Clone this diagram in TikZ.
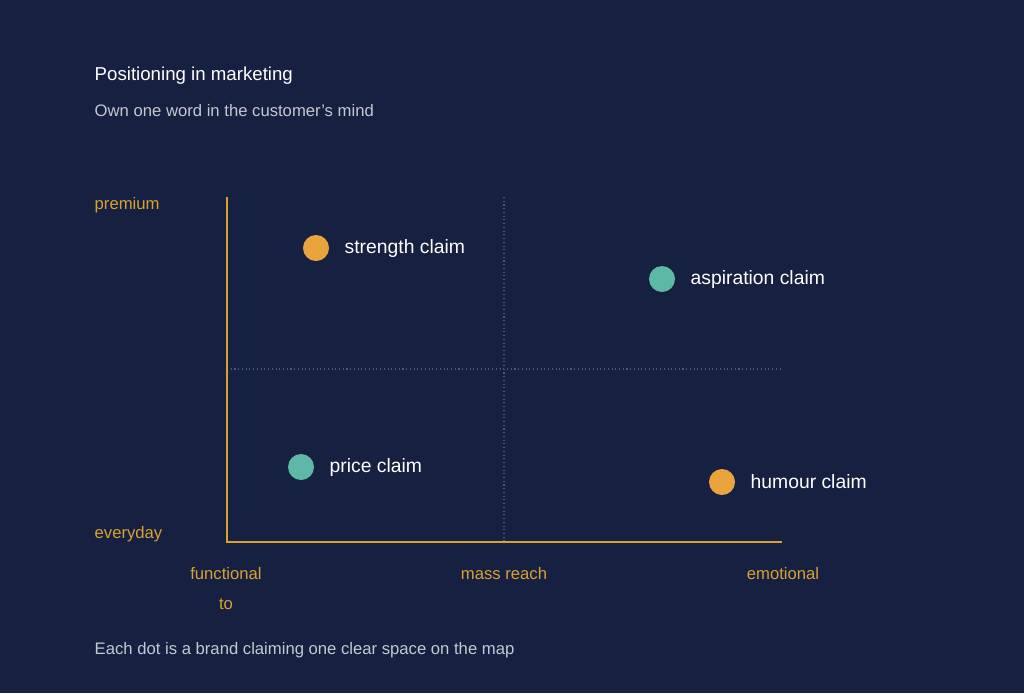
\documentclass[tikz,border=0pt]{standalone}
\usepackage{fontspec}
\setmainfont{Liberation Sans}
\usetikzlibrary{positioning}
\definecolor{bgnavy}{HTML}{162040}
\definecolor{axisgold}{HTML}{D9A032}
\definecolor{dotorange}{HTML}{EAA43C}
\definecolor{dotteal}{HTML}{5DB8A5}
\definecolor{gridgrey}{HTML}{4C5878}
\definecolor{softgrey}{HTML}{C4C8D2}
\tikzset{
  dot/.style = {circle, minimum size = 19.5pt, inner sep = 0pt},
  claim/.style = {text = white, font = \fontsize{14.5}{16}\selectfont, anchor = west},
  axislabel/.style = {text = axisgold, font = \fontsize{12.5}{14}\selectfont},
}
\begin{document}
\begin{tikzpicture}[x = 0.75pt, y = -0.75pt]
        \fill [bgnavy] (0,0) rectangle (1024,693);
        \useasboundingbox (0,0) rectangle (1024,693);

        % headings
        \node [anchor = west, text = white, font = \fontsize{14}{16}\selectfont] (title) at (90,76) {Positioning in marketing};
        \node [anchor = west, text = softgrey, font = \fontsize{12.5}{14}\selectfont] (subtitle) at (90,111) {Own one word in the customer's mind};

        % axes and grid
        \coordinate (origin) at (227,542);
        \coordinate (ytop)   at (227,197);
        \coordinate (xend)   at (782,542);
        \coordinate (midtop) at (504,197);
        \coordinate (midbot) at (504,542);
        \coordinate (midl)   at (227,369);
        \coordinate (midr)   at (782,369);
        \draw [gridgrey, dotted, line width = 0.8pt] (midtop) to (midbot);
        \draw [gridgrey, dotted, line width = 0.8pt] (midl) to (midr);
        \draw [axisgold, line width = 1.5pt] (ytop) to (origin) to (xend);

        % axis labels
        \node [axislabel, anchor = west] (premium)  at (90,205) {premium};
        \node [axislabel, anchor = west] (everyday) at (90,534) {everyday};
        \node [axislabel] (functional) at (226,574) {functional};
        \node [axislabel] (to)         at (226,604) {to};
        \node [axislabel] (mass)       at (504,574) {mass reach};
        \node [axislabel] (emotional)  at (783,574) {emotional};

        % brands
        \node [dot, fill = dotorange] (strength)   at (316,248) {};
        \node [dot, fill = dotteal]   (aspiration) at (662,279) {};
        \node [dot, fill = dotteal]   (price)      at (301,467) {};
        \node [dot, fill = dotorange] (humour)     at (722,482) {};
        \node [claim, right = 8pt of strength]   {strength claim};
        \node [claim, right = 8pt of aspiration] {aspiration claim};
        \node [claim, right = 8pt of price]      {price claim};
        \node [claim, right = 8pt of humour]     {humour claim};

        \node [anchor = west, text = softgrey, font = \fontsize{12.5}{14}\selectfont] (footer) at (90,650) {Each dot is a brand claiming one clear space on the map};
      \end{tikzpicture}
\end{document}
